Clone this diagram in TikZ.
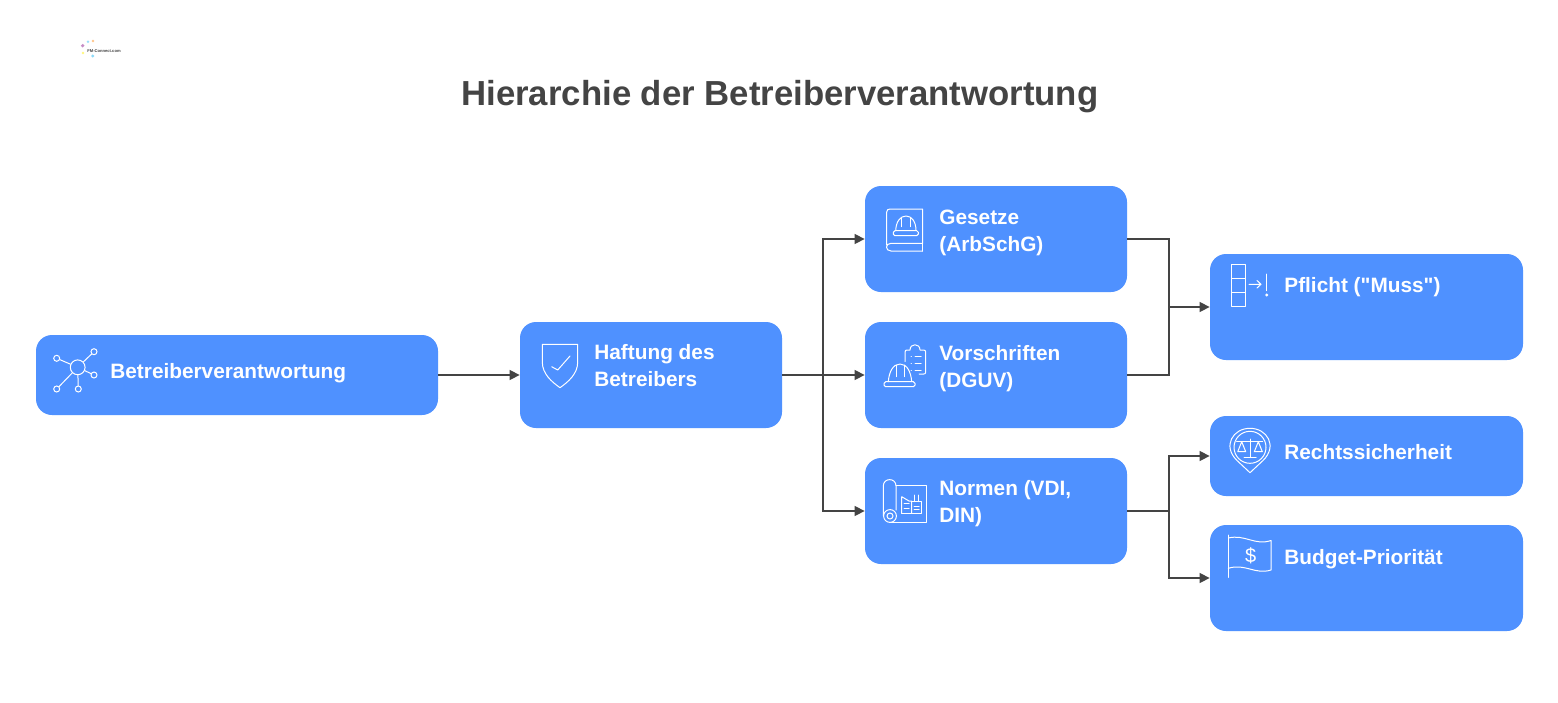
\documentclass[tikz,border=0pt]{standalone}
\usepackage{fontspec}
\setmainfont[Ligatures=TeXOff]{Liberation Sans}
\usetikzlibrary{arrows.meta}
\definecolor{boxblue}{HTML}{4F91FF}
\definecolor{ink}{HTML}{444444}
\tikzset{
  x=0.5pt,y=-0.5pt,
  box/.style={fill=boxblue,draw=none,rounded corners=8pt,minimum width=#1,inner sep=0pt},
  conn/.style={draw=ink,line width=0.7pt},
  arr/.style={conn,-{Triangle[length=5pt,width=5pt]}},
  lbl/.style={anchor=base west,inner sep=0pt,text=white,align=left,font=\fontsize{10.4}{13.2}\selectfont\bfseries},
  ic/.style={draw=white,line width=0.5pt,line cap=round,line join=round},
  ring/.style={draw=white,line width=0.5pt,circle,inner sep=0pt,minimum size=#1},
}
\newcommand{\boxat}[5]{% name, x1, y1, x2, y2
  \pgfmathsetmacro{\bw}{(#4-#2)*0.5}\pgfmathsetmacro{\bh}{(#5-#3)*0.5}
  \node[box=\bw pt,minimum height=\bh pt] (#1) at ({(#2+#4)/2},{(#3+#5)/2}) {};}
\begin{document}
\begin{tikzpicture}
\useasboundingbox (0,0) rectangle (1558,702);
\fill[white] (0,0) rectangle (1558,702);
% logo
\fill[violet!45] (82.7,45.7) circle (0.9pt);
\fill[cyan!40] (88,41.7) circle (0.7pt);
\fill[orange!45] (93,41) circle (0.7pt);
\fill[yellow!50] (83,53) circle (0.7pt);
\fill[cyan!45] (92.7,56) circle (0.8pt);
\node[anchor=base west,inner sep=0pt,text=ink,font=\fontsize{2.05}{3}\selectfont\bfseries] (logo) at (87,52.5) {FM-Connect.com};
% title
\node[anchor=base west,inner sep=0pt,text=ink,font=\fontsize{17.37}{22}\selectfont\bfseries] (title) at (461,105) {Hierarchie der Betreiberverantwortung};
% boxes
\boxat{a}{36}{335}{438}{415}
\boxat{b}{520}{322}{782}{428}
\boxat{c}{865}{186}{1127}{292}
\boxat{d}{865}{322}{1127}{428}
\boxat{e}{865}{458}{1127}{564}
\boxat{f}{1210}{254}{1523}{360}
\boxat{g}{1210}{416}{1523}{496}
\boxat{h}{1210}{525}{1523}{631}
% labels
\node[lbl] (ta) at (110,378.5) {Betreiberverantwortung};
\node[lbl] (tb) at (594,386) {Haftung des\\Betreibers};
\node[lbl] (tc) at (939,251) {Gesetze\\(ArbSchG)};
\node[lbl] (td) at (939,387) {Vorschriften\\(DGUV)};
\node[lbl] (te) at (939,522) {Normen (VDI,\\DIN)};
\node[lbl] (tf) at (1284,292) {Pflicht ("Muss")};
\node[lbl] (tg) at (1284,459) {Rechtssicherheit};
\node[lbl] (th) at (1284,564) {Budget-Priorität};
% connectors
\coordinate (j1) at (823,375);
\coordinate (j2) at (1169,307);
\coordinate (j3) at (1169,511);
\draw[arr] (a.east) -- (b.west);
\draw[arr] (b.east) -- (d.west);
\draw[arr] (j1) |- (c.west);
\draw[arr] (j1) |- (e.west);
\draw[conn] (c.east) -| (j2);
\draw[conn] (d.east) -| (j2);
\draw[arr] (j2) -- (f.west |- j2);
\draw[conn] (e.east) -- (j3);
\draw[arr] (j3) |- (g.west);
\draw[arr] (j3) |- (h.west |- 0,578);
% icon: network
\node[ring=7.4pt] (n0) at (77.7,367.3) {};
\foreach \i/\p in {1/{56.7,358.3},2/{94,351.7},3/{94,375},4/{56.7,389},5/{78.3,389}}{
  \node[ring=3pt] (n\i) at (\p) {};
  \draw[ic] (n0) -- (n\i);
}
% icon: shield
\draw[ic] (542.3,344.3) -- (577.7,344.3) -- (577.7,362) .. controls (577.7,374) and (568,382) .. (560,387.7) .. controls (552,382) and (542.3,374) .. (542.3,362) -- cycle;
\draw[ic] (551.7,366.7) -- (557.7,370) -- (570,356);
% icon: book + helmet
\draw[ic] (886.7,245) -- (886.7,212) .. controls (886.7,210) and (888,209) .. (890,209) -- (922.7,209) -- (922.7,243.3) -- (891,243.3) .. controls (885,243.3) and (885,251) .. (891,251) -- (922.7,251);
\draw[ic] (922.7,243.3) -- (922.7,251);
\draw[ic] (895.7,230.7) .. controls (896,222) and (900,216) .. (906,216) .. controls (912,216) and (916,222) .. (916,230.7);
\draw[ic] (901.7,226.7) -- (901.7,217.5) (910,226.7) -- (910,217.5);
\draw[ic,rounded corners=0.8pt] (893.3,230.7) rectangle (918.3,235.7);
% icon: clipboard + helmet
\draw[ic] (905,361.7) -- (905,352) .. controls (905,350.5) and (906,350) .. (907,350) -- (910,350) .. controls (910,343) and (920,343) .. (920,350) -- (923.7,350) .. controls (925,350) and (925.7,351) .. (925.7,352) -- (925.7,372) .. controls (925.7,373.5) and (925,374) .. (923.7,374) -- (919,374);
\foreach \yy in {356.7,363.3,370}{\draw[ic] (911,\yy) -- (911.4,\yy) (915,\yy) -- (921,\yy);}
\draw[ic] (888.3,381.7) .. controls (889,372) and (893,364) .. (900,364) .. controls (907,364) and (911,372) .. (911.7,381.7);
\draw[ic] (896,376.7) -- (896,365) (904,376.7) -- (904,365);
\draw[ic,rounded corners=0.8pt] (884,381.7) rectangle (915,386.7);
% icon: plan roll
\draw[ic] (883.3,516) -- (883.3,486) .. controls (883.3,477.5) and (896,477.5) .. (896,486) -- (896,510);
\draw[ic] (896,485.7) -- (926.7,485.7) -- (926.7,522.3) -- (890,522.3);
\node[ring=6.4pt] (r1) at (890,516) {};
\node[ring=3pt] (r2) at (890,516) {};
\draw[ic] (901.7,513.3) -- (901.7,496.7) -- (909,501) -- (911.5,501) -- (911.5,513.3);
\draw[ic] (901.7,513.3) -- (921,513.3) -- (921,501.7) -- (911.5,501.7);
\draw[ic] (914,501.7) -- (914,495) (918,501.7) -- (918,495);
\draw[ic] (904,503.5) -- (909,503.5) (904,508) -- (909,508) (914,506) -- (919,506) (914,509.5) -- (919,509.5);
% icon: stack, arrow, exclamation
\draw[ic] (1231.7,264) rectangle (1245,306);
\draw[ic] (1231.7,278.3) -- (1245,278.3) (1231.7,292.3) -- (1245,292.3);
\draw[ic] (1249,284.3) -- (1261,284.3) (1257,280.5) -- (1261,284.3) -- (1257,288);
\draw[ic] (1266.7,274) -- (1266.7,290.7);
\fill[white] (1266.7,295) circle (0.8pt);
% icon: pin + scales
\draw[ic] (1250,472.7) -- (1237,460.5) .. controls (1222,446) and (1233,428.3) .. (1250,428.3) .. controls (1267,428.3) and (1278,446) .. (1263,460.5) -- cycle;
\node[ring=16pt] (p1) at (1250,447.3) {};
\draw[ic] (1236.7,441.7) -- (1262.7,441.7) (1250,439) -- (1250,457.7) (1244,457.7) -- (1256,457.7);
\draw[ic] (1237.7,451.7) -- (1241.7,441.7) -- (1245.7,451.7) -- cycle;
\draw[ic] (1254.3,451.7) -- (1258.3,441.7) -- (1262.3,451.7) -- cycle;
% icon: flag
\draw[ic] (1228.3,535) -- (1228.3,577.3);
\draw[ic] (1228.3,538) .. controls (1245,534) and (1255,546) .. (1271,540.5) -- (1271,570) .. controls (1255,575) and (1245,563) .. (1228.3,568.3);
\node[inner sep=0pt,text=white,font=\fontsize{10}{12}\selectfont] (dollar) at (1250.7,555.7) {\$};
\end{tikzpicture}
\end{document}
